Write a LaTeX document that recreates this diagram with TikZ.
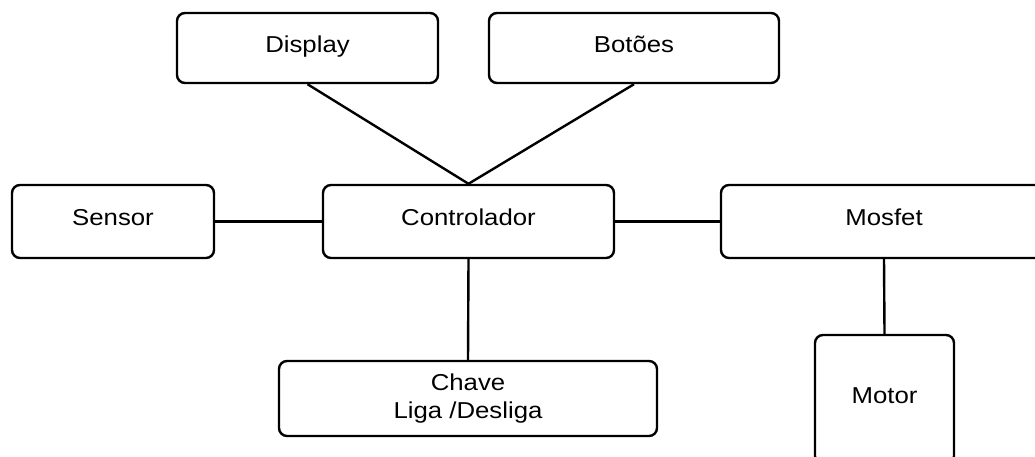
\documentclass[tikz,border=0pt]{standalone}
\usepackage{fontspec}
\setmainfont{Liberation Sans}
\newfontfamily\lblfont[FakeStretch=1.12]{Liberation Sans}
\begin{document}
\begin{tikzpicture}[x=1pt,y=-1pt,
  box/.style={draw=black, line width=2.4pt, rounded corners=8pt, fill=white,
    inner sep=0pt, font=\lblfont\fontsize{23}{28}\selectfont, align=center},
  oneline/.style={box, text height=16.5pt, text depth=8pt},
  link/.style={draw=black, line width=2.4pt}]
\useasboundingbox (0,0) rectangle (1035,457);
\clip (0,0) rectangle (1035,457);

% blocks
\node[oneline, minimum width=261pt, minimum height=70pt] (display) at (307.5,48) {Display};
\node[oneline, minimum width=290pt, minimum height=70pt] (botoes) at (634,48) {Botões};
\node[oneline, minimum width=202pt, minimum height=73pt] (sensor) at (113,221.5) {Sensor};
\node[oneline, minimum width=291pt, minimum height=73pt] (ctrl) at (468.5,221.5) {Controlador};
\node[oneline, minimum width=326pt, minimum height=73pt] (mosfet) at (884,221.5) {Mosfet};
\node[box, minimum width=378pt, minimum height=75pt] (chave) at (468,398.5) {Chave\\Liga /Desliga};
\node[oneline, minimum width=139pt, minimum height=129pt] (motor) at (884.5,399.5) {Motor};

% connections
\draw[link] (display.south) -- (ctrl.north);
\draw[link] (botoes.south) -- (ctrl.north);
\draw[link] (sensor.east) -- (ctrl.west);
\draw[link] (ctrl.east) -- (mosfet.west);
\draw[link] (ctrl.south) -- (chave.north);
\draw[link] (mosfet.south) -- (motor.north);
\end{tikzpicture}
\end{document}
